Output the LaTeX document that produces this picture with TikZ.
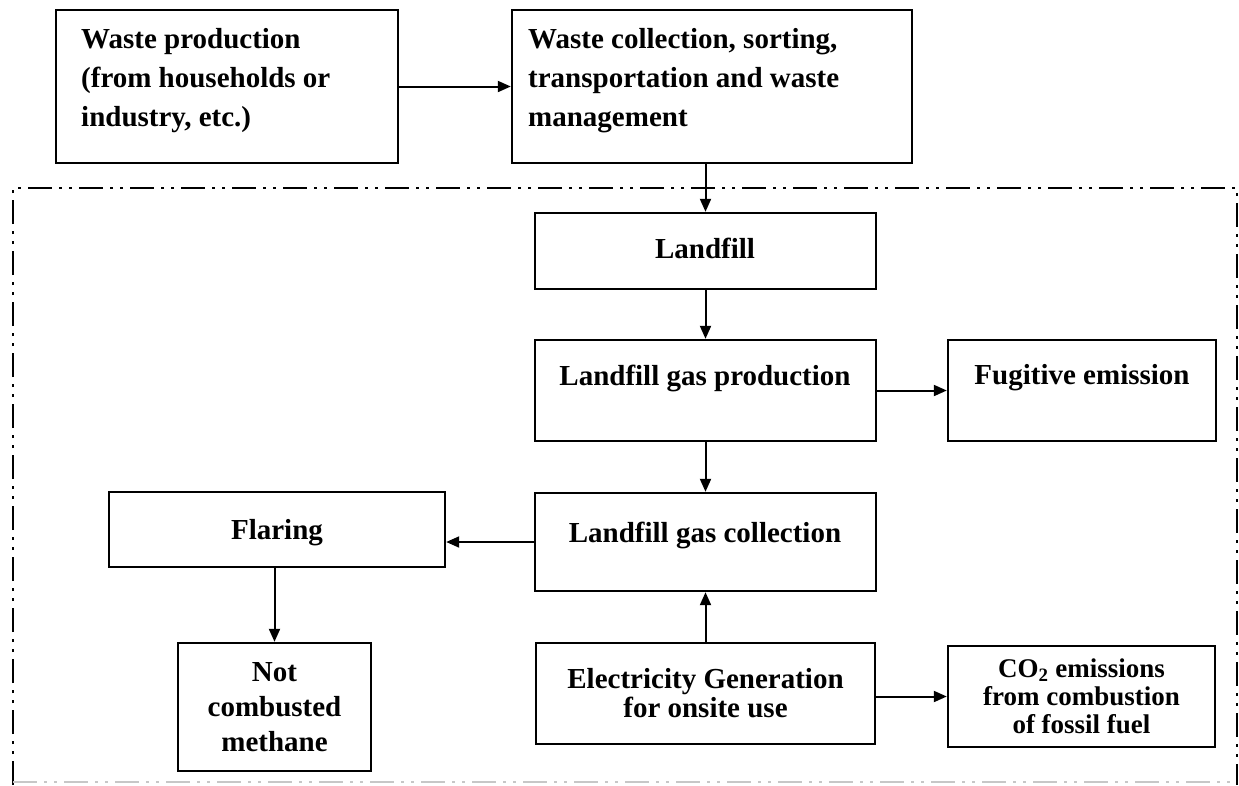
\documentclass[tikz,border=0pt]{standalone}
\usepackage{fontspec}
\setmainfont{Liberation Serif}
\usetikzlibrary{arrows.meta}
\begin{document}
\begin{tikzpicture}[x=1pt,y=-1pt,
  box/.style={draw=black, line width=2.4pt, fill=white, inner sep=0pt, align=center},
  lbl/.style={inner sep=0pt, font=\bfseries\fontsize{29}{39}\selectfont},
  arr/.style={line width=2pt, -{Triangle[length=13pt,width=11pt]}},
  frameline/.style={line width=2.8pt, dash pattern=on 24pt off 7pt on 3pt off 7pt on 3pt off 7pt}]
\useasboundingbox (0,0) rectangle (1239,785);
% dash-dot frame
\draw[frameline] (13,785) -- (13,188) -- (1237,188) -- (1237,785);
\draw[frameline, draw=black!22, line width=1.6pt] (13,782) -- (1237,782);
% boxes
\node[box, minimum width=342pt, minimum height=153pt] (b1) at (227,86.5) {};
\node[box, minimum width=400pt, minimum height=153pt] (b2) at (712,86.5) {};
\node[box, minimum width=341pt, minimum height=76pt] (lf) at (705.5,251) {};
\node[box, minimum width=341pt, minimum height=101pt] (lgp) at (705.5,390.5) {};
\node[box, minimum width=268pt, minimum height=101pt] (fug) at (1082,390.5) {};
\node[box, minimum width=341pt, minimum height=98pt] (lgc) at (705.5,542) {};
\node[box, minimum width=336pt, minimum height=75pt] (flr) at (277,529.5) {};
\node[box, minimum width=193pt, minimum height=128pt,
      font=\bfseries\fontsize{29}{35}\selectfont] (ncm) at (274.5,707) {Not\\combusted\\methane};
\node[box, minimum width=339pt, minimum height=101pt,
      font=\bfseries\fontsize{29}{29}\selectfont] (elec) at (705.5,693.5) {Electricity Generation\\for onsite use};
\node[box, minimum width=267pt, minimum height=101pt,
      font=\bfseries\fontsize{27}{28}\selectfont] (co2) at (1081.5,696.5) {CO\textsubscript{2} emissions\\from combustion\\of fossil fuel};
% labels
\node[lbl, anchor=north west, align=left] (t1) at (81,28) {Waste production\\(from households or\\industry, etc.)};
\node[lbl, anchor=north west, align=left] (t2) at (528,28) {Waste collection, sorting,\\transportation and waste\\management};
\node[lbl] (tlf) at (705,248) {Landfill};
\node[lbl] (tlgp) at (705,378) {Landfill gas production};
\node[lbl] (tfug) at (1082,378) {Fugitive emission};
\node[lbl] (tlgc) at (705,535) {Landfill gas collection};
\node[lbl] (tflr) at (277,533) {Flaring};
% connectors
\draw[arr] (b1.east) -- (b2.west);
\draw[arr] (lf.north |- b2.south) -- (lf.north);
\draw[arr] (lf.south) -- (lgp.north);
\draw[arr] (lgp.east) -- (fug.west);
\draw[arr] (lgp.south) -- (lgc.north);
\draw[arr] (lgc.west) -- (lgc.west -| flr.east);
\draw[arr] (ncm.north |- flr.south) -- (ncm.north);
\draw[arr] (elec.north) -- (lgc.south);
\draw[arr] (co2.west -| elec.east) -- (co2.west);
\end{tikzpicture}
\end{document}
